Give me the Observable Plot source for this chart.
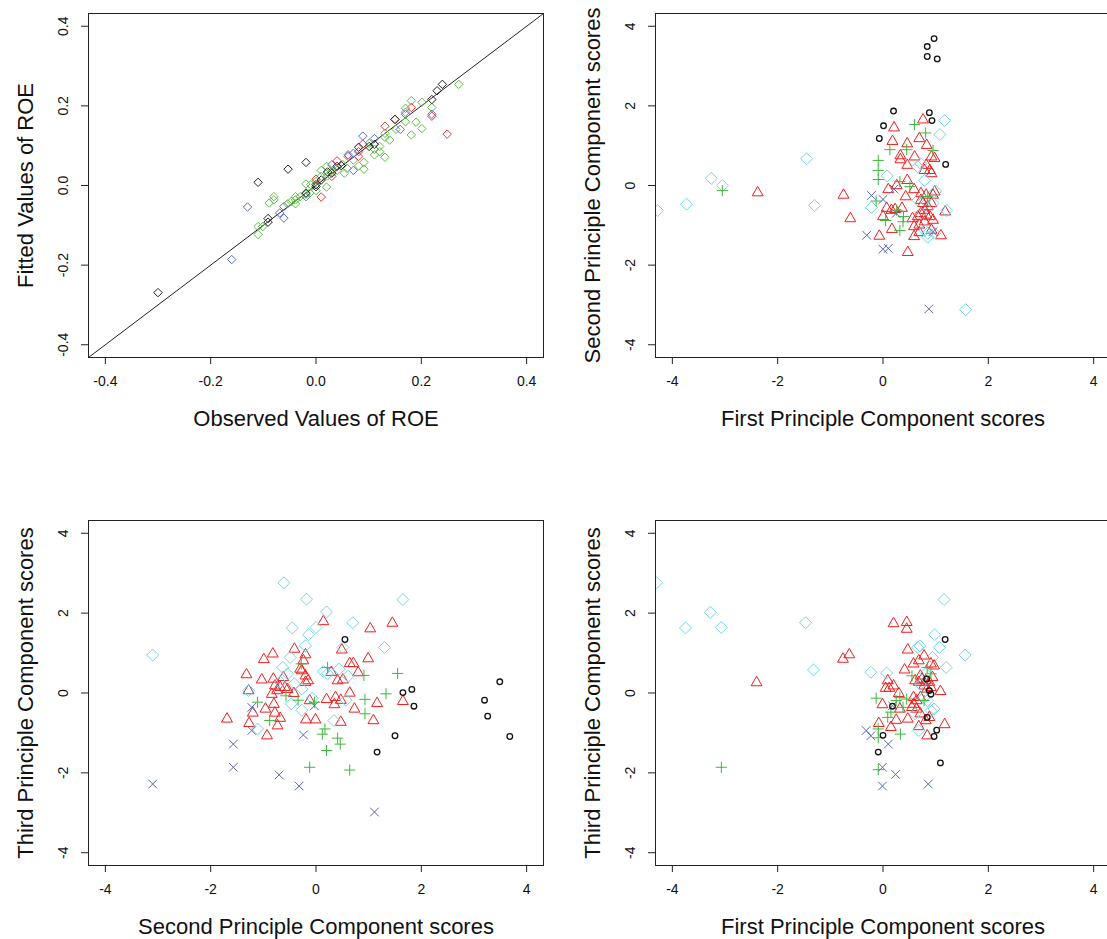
<!DOCTYPE html>
<html><head><meta charset="utf-8">
<script src="https://cdn.jsdelivr.net/npm/d3@7"></script>
<script src="https://cdn.jsdelivr.net/npm/@observablehq/plot@0.6"></script>
<style>
body{margin:0;background:#fff}
#fig{position:relative;width:1107px;height:939px;overflow:hidden;background:#fff}
</style></head><body><div id="fig"></div>
<script>
// ---------- Panel 1: observed vs fitted ROE (diamonds) ----------
const p1Ticks = [-0.4, -0.2, 0, 0.2, 0.4];
const p1TickLabels = ["-0.4", "-0.2", "0.0", "0.2", "0.4"];
const p1Green = [[0.271,0.254],[0.181,0.213],[0.201,0.209],[0.220,0.196],[0.170,0.194],[0.170,0.184],[0.190,0.159],[0.201,0.143],[0.181,0.127],[0.170,0.160],[0.152,0.141],[0.131,0.131],[0.140,0.114],[0.131,0.121],[0.121,0.098],[0.121,0.085],[0.111,0.091],[0.111,0.077],[0.131,0.071],[0.101,0.106],[0.091,0.058],[0.091,0.041],[0.081,0.049],[0.059,0.043],[0.051,0.052],[0.071,0.064],[0.022,0.024],[0.020,0.048],[0.010,0.038],[0.020,-0.004],[0.000,0.010],[-0.010,0.002],[-0.019,0.004],[-0.019,-0.022],[-0.030,-0.028],[-0.039,-0.028],[-0.039,-0.036],[-0.047,-0.040],[-0.039,-0.046],[-0.054,-0.046],[-0.080,-0.028],[-0.080,-0.036],[-0.089,-0.044],[-0.110,-0.103],[-0.110,-0.123],[-0.101,-0.103],[0.040,0.038],[0.030,0.035],[0.054,0.031],[0.010,0.023],[0.000,-0.013],[-0.012,-0.019]];
const p1Red = [[0.249,0.129],[0.220,0.174],[0.181,0.196],[0.131,0.149],[0.150,0.166],[0.089,0.104],[0.081,0.085],[0.081,0.073],[0.061,0.073],[0.040,0.062],[0.030,0.023],[0.000,0.016],[0.010,-0.029]];
const p1Blue = [[-0.160,-0.186],[-0.130,-0.054],[-0.061,-0.082],[-0.061,-0.053],[-0.069,-0.069],[-0.019,-0.028],[0.089,0.124],[0.111,0.118],[0.160,0.141],[0.170,0.179],[0.220,0.179],[0.071,0.038],[0.071,0.081],[0.061,0.077],[0.030,0.052]];
const p1Black = [[-0.300,-0.269],[-0.110,0.008],[-0.053,0.041],[-0.019,0.058],[-0.091,-0.083],[-0.091,-0.092],[-0.019,-0.019],[0.000,-0.003],[0.000,0.002],[0.010,0.014],[0.022,0.034],[0.030,0.031],[0.040,0.048],[0.048,0.050],[0.081,0.096],[0.101,0.098],[0.111,0.103],[0.150,0.166],[0.220,0.216],[0.230,0.238],[0.240,0.254]];

// ---------- PC panels ----------
const pcTicks = [-4, -2, 0, 2, 4];
const pcTickLabels = ["-4", "-2", "0", "2", "4"];

// Panel 2: [PC1, PC2]
const p2Black = [[0.97,3.69],[0.84,3.49],[0.84,3.24],[1.03,3.18],[0.20,1.87],[0.88,1.83],[0.93,1.63],[0.01,1.50],[-0.07,1.18],[1.19,0.53]];
const p2Cyan = [[-4.28,-0.63],[-3.73,-0.47],[-3.26,0.18],[-3.05,0.00],[-1.45,0.67],[-1.30,-0.50],[-0.22,-0.55],[0.08,0.24],[1.57,-3.12],[1.17,1.63],[1.08,1.28],[0.79,0.13],[0.66,0.47],[0.72,0.55],[1.00,-0.14],[0.95,-0.45],[1.21,-0.63],[0.85,-1.20],[0.98,-1.20],[0.79,-1.12],[0.72,-0.70],[0.79,-0.37],[0.85,-1.30],[0.66,-0.37]];
const p2Green = [[-3.05,-0.13],[-0.09,0.63],[-0.09,0.38],[-0.09,0.15],[-0.13,-0.39],[0.13,0.90],[0.45,0.90],[0.60,1.53],[0.81,1.32],[0.95,0.88],[0.32,0.10],[0.51,-0.03],[0.39,-0.78],[0.38,-0.91],[0.05,-0.88],[0.32,-1.13],[0.85,-0.28],[0.26,-0.62]];
const p2Blue = [[-0.22,-0.25],[0.00,-0.35],[-0.31,-1.25],[0.00,-1.60],[0.10,-1.58],[0.21,-0.09],[0.87,-3.10],[0.95,-1.16],[0.25,-0.70]];
const p2Red = [[-2.38,-0.18],[-0.75,-0.24],[-0.62,-0.83],[-0.07,-1.27],[0.47,-1.68],[0.17,-1.10],[0.21,1.45],[0.18,1.11],[0.46,1.05],[0.69,1.18],[0.76,1.65],[0.83,1.01],[0.33,0.75],[0.33,0.65],[0.46,0.51],[0.60,0.72],[0.92,0.72],[0.98,0.68],[0.82,0.51],[0.89,0.38],[0.92,0.30],[0.79,0.38],[0.46,0.13],[0.26,0.00],[0.10,-0.10],[0.43,-0.28],[0.59,-0.10],[0.72,-0.20],[0.82,-0.24],[0.95,-0.24],[0.98,-0.16],[0.00,-0.78],[0.07,-0.57],[0.16,-0.62],[0.23,-0.60],[0.36,-0.57],[0.56,-0.83],[0.66,-0.78],[0.72,-0.70],[0.82,-0.74],[0.89,-0.78],[0.79,-0.91],[0.69,-0.99],[0.59,-1.28],[0.69,-1.18],[1.10,-1.26],[1.18,-0.66],[0.92,-0.45],[0.85,-0.53],[0.76,-0.45],[0.59,-1.03],[0.92,-1.12],[0.95,-0.87],[0.79,-0.62],[0.72,-0.37]];

// Panel 3: [PC2, PC3]
const p3Black = [[0.55,1.34],[1.65,0.01],[1.82,0.09],[1.86,-0.33],[1.50,-1.07],[1.16,-1.48],[3.20,-0.18],[3.26,-0.58],[3.49,0.28],[3.68,-1.09]];
const p3Cyan = [[-3.10,0.95],[-0.61,2.76],[-0.18,2.35],[0.20,2.03],[1.65,2.34],[0.70,1.76],[-0.45,1.63],[0.00,1.64],[-0.14,1.46],[-0.20,1.18],[1.30,1.14],[0.51,1.14],[-0.49,0.89],[-0.63,0.64],[-0.54,0.48],[0.44,0.60],[0.14,0.54],[0.22,0.48],[0.61,0.42],[-0.41,0.23],[-0.27,0.10],[-0.47,-0.27],[-0.27,-0.43],[-0.07,-0.13],[0.34,-0.69],[-1.28,0.06],[-1.11,-0.90],[0.57,-0.18],[-0.68,0.27]];
const p3Green = [[1.55,0.49],[1.33,-0.02],[0.91,0.44],[0.93,-0.16],[0.93,-0.52],[0.64,-1.93],[-0.12,-1.86],[0.20,-1.44],[0.12,-1.03],[0.17,-0.90],[0.41,-1.13],[0.46,-1.28],[0.22,0.64],[-0.03,-0.23],[-0.28,0.73],[-0.88,-0.69],[-1.11,-0.23],[-0.57,-0.07],[-0.34,-0.18]];
const p3Blue = [[-3.10,-2.28],[-1.57,-1.28],[-1.57,-1.86],[-0.70,-2.05],[-0.32,-2.33],[1.11,-2.98],[-0.24,-1.05],[-1.22,-0.36],[-1.22,-0.94],[-0.03,-0.32]];
const p3Red = [[-1.69,-0.65],[-1.32,0.46],[-1.28,0.06],[-1.03,0.33],[-0.99,0.84],[-0.82,0.98],[-0.81,0.35],[-0.78,0.18],[-0.84,-0.03],[-0.74,0.06],[-0.68,0.14],[-0.59,0.14],[-0.54,0.09],[-0.62,0.39],[-0.41,1.10],[-0.20,0.96],[-0.24,0.81],[-0.30,0.60],[-0.20,0.43],[-0.15,0.31],[-0.20,0.27],[-0.42,-0.01],[-0.80,-0.28],[-0.96,-0.40],[-1.20,-0.50],[-1.27,-0.76],[-0.78,-0.50],[-0.68,-0.63],[-0.73,-0.82],[-0.93,-1.07],[-0.19,-0.67],[-0.01,-0.67],[-0.12,-0.19],[0.14,1.79],[1.03,1.61],[1.45,1.75],[0.49,1.08],[0.99,0.86],[0.64,0.74],[0.71,0.74],[0.80,0.51],[0.29,0.52],[0.41,0.31],[0.51,0.33],[0.64,0.00],[0.20,-0.16],[0.35,-0.29],[0.37,-0.11],[0.47,-0.18],[0.73,-0.40],[1.16,-0.26],[1.09,-0.69],[0.47,-0.73],[1.65,-0.21],[-0.27,0.56]];

// Panel 4: [PC1, PC3]
const p4Black = [[1.18,1.34],[-0.09,-1.48],[1.09,-1.75],[0.00,-1.06],[0.97,-1.09],[1.02,-0.93],[0.18,-0.33],[0.88,0.06],[0.83,0.35],[0.91,-0.03],[0.84,-0.61]];
const p4Cyan = [[-4.30,2.76],[-3.75,1.63],[-3.28,2.02],[-3.07,1.64],[-1.47,1.76],[-1.32,0.58],[-0.23,0.52],[0.07,0.50],[1.16,2.34],[1.56,0.95],[0.98,1.46],[1.07,1.14],[1.20,0.64],[0.66,1.14],[0.70,1.18],[0.94,0.89],[0.81,0.48],[0.71,0.22],[0.97,-0.40],[0.91,-0.44],[0.68,-0.94],[0.78,-0.11],[0.61,-0.52],[0.84,-0.19]];
const p4Green = [[-3.07,-1.86],[-0.13,-0.13],[-0.09,-0.90],[-0.09,-1.12],[-0.09,-1.92],[0.09,-0.61],[0.15,-0.48],[0.33,-1.03],[0.25,-0.19],[0.45,-0.15],[0.32,-0.11],[0.55,0.43],[0.91,0.48],[0.84,0.64],[0.78,-0.19],[0.38,-0.36]];
const p4Blue = [[-0.32,-0.94],[-0.23,-1.07],[0.10,-1.28],[-0.01,-1.86],[-0.01,-2.33],[0.24,-2.04],[0.86,-2.28],[0.18,-0.32]];
const p4Red = [[-2.40,0.26],[-0.76,0.85],[-0.64,0.96],[0.20,1.74],[0.45,1.77],[0.45,1.60],[0.47,1.08],[0.41,0.58],[0.09,0.31],[0.05,0.12],[0.12,0.12],[0.20,0.18],[-0.01,-0.29],[-0.08,-0.76],[0.15,-0.86],[0.25,-0.68],[0.32,-0.40],[0.30,-0.01],[0.47,-0.65],[0.58,-0.28],[0.64,-0.19],[0.68,-0.84],[0.84,-1.07],[1.17,-0.79],[1.09,0.04],[0.78,0.93],[0.91,0.73],[0.97,0.68],[0.58,0.73],[0.68,0.81],[0.61,0.31],[0.68,0.27],[0.74,0.35],[0.81,0.31],[0.88,0.27],[0.94,0.39],[0.78,0.18],[0.71,0.43],[0.58,-0.11],[0.71,-0.11],[0.64,-0.40],[0.71,-0.52],[0.81,-0.69],[0.88,-0.61],[0.91,0.14],[0.55,-0.36],[0.84,0.10]];

// ---------- styling ----------
const COL1 = {green:"#5cbf45", red:"#ee3535", blue:"#5a6cc8", black:"#222222"};
const COL = {red:"#f01e1e", cyan:"#74d3e8", green:"#3cb83c", blue:"#5566c0", black:"#111111"};
const FONT = "'Liberation Sans', Arial, Helvetica, sans-serif";

const px = d => d[0], py = d => d[1];
function pts(data, symbol, r, stroke, sw = 1) {
  return Plot.dot(data, {x: px, y: py, symbol, r, stroke, strokeWidth: sw, fill: "none", clip: true});
}

function panel(cfg) {
  const {left, top, width, height, m, lim, ticks, tickLabels, xTitle, yTitle, marks} = cfg;
  const svg = Plot.plot({
    width, height,
    marginTop: m[0], marginRight: m[1], marginBottom: m[2], marginLeft: m[3],
    x: {domain: [-lim, lim]},
    y: {domain: [-lim, lim]},
    style: {fontFamily: FONT, background: "transparent", color: "#000"},
    marks: [
      ...marks,
      Plot.frame({stroke: "#222", strokeWidth: 1}),
      Plot.axisX({ticks, tickSize: 7, tickFormat: () => "", label: null, stroke: "#222"}),
      Plot.axisY({ticks, tickSize: 7, tickFormat: () => "", label: null, stroke: "#222"}),
      Plot.text(ticks, {x: d => d, frameAnchor: "bottom", dy: 24, text: (d, i) => tickLabels[i], fontSize: 14, textAnchor: "middle", lineAnchor: "middle", fill: "#111"}),
      Plot.text(ticks, {y: d => d, frameAnchor: "left", dx: -25, rotate: -90, text: (d, i) => tickLabels[i], fontSize: 14, textAnchor: "middle", lineAnchor: "middle", fill: "#111"}),
      Plot.text([xTitle], {frameAnchor: "bottom", dy: 61, fontSize: 22, textAnchor: "middle", lineAnchor: "middle", fill: "#111"}),
      Plot.text([yTitle], {frameAnchor: "left", dx: -63, rotate: -90, fontSize: 22, textAnchor: "middle", lineAnchor: "middle", fill: "#111"})
    ]
  });
  svg.style.position = "absolute";
  svg.style.left = left + "px";
  svg.style.top = top + "px";
  document.getElementById("fig").appendChild(svg);
}

const lim1 = 0.432, limPC = 4.32;
const diag = [-lim1, lim1].map(v => [v, v]);

panel({
  left: 0, top: 0, width: 553, height: 469, m: [13, 10, 112, 88],
  lim: lim1, ticks: p1Ticks, tickLabels: p1TickLabels,
  xTitle: "Observed Values of ROE", yTitle: "Fitted Values of ROE",
  marks: [
    Plot.line(diag, {x: px, y: py, stroke: "#222", strokeWidth: 1, clip: true}),
    pts(p1Green, "diamond2", 3.8, COL1.green),
    pts(p1Red, "diamond2", 3.8, COL1.red),
    pts(p1Blue, "diamond2", 3.8, COL1.blue),
    pts(p1Black, "diamond2", 3.8, COL1.black)
  ]
});

function pcMarks(red, cyan, green, blue, black) {
  return [
    pts(red, "triangle2", 5.2, COL.red),
    pts(cyan, "diamond2", 5.4, COL.cyan),
    pts(green, "plus", 3.7, COL.green),
    pts(blue, "times", 4.0, COL.blue),
    pts(black, "circle", 2.8, COL.black, 1.3)
  ];
}

panel({
  left: 553, top: 0, width: 600, height: 469, m: [13, 43, 112, 102],
  lim: limPC, ticks: pcTicks, tickLabels: pcTickLabels,
  xTitle: "First Principle Component scores", yTitle: "Second Principle Component scores",
  marks: pcMarks(p2Red, p2Cyan, p2Green, p2Blue, p2Black)
});

panel({
  left: 0, top: 469, width: 553, height: 470, m: [51, 10, 74, 88],
  lim: limPC, ticks: pcTicks, tickLabels: pcTickLabels,
  xTitle: "Second Principle Component scores", yTitle: "Third Principle Component scores",
  marks: pcMarks(p3Red, p3Cyan, p3Green, p3Blue, p3Black)
});

panel({
  left: 553, top: 469, width: 600, height: 470, m: [51, 43, 74, 102],
  lim: limPC, ticks: pcTicks, tickLabels: pcTickLabels,
  xTitle: "First Principle Component scores", yTitle: "Third Principle Component scores",
  marks: pcMarks(p4Red, p4Cyan, p4Green, p4Blue, p4Black)
});
</script></body></html>
